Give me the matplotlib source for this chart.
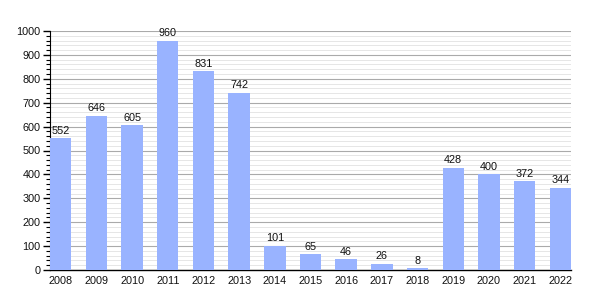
import numpy as np
import matplotlib
matplotlib.use('Agg')
import matplotlib.pyplot as plt
from matplotlib.ticker import MultipleLocator

years = ['2008', '2009', '2010', '2011', '2012', '2013', '2014', '2015',
         '2016', '2017', '2018', '2019', '2020', '2021', '2022']
values = [552, 646, 605, 960, 831, 742, 101, 65, 46, 26, 8, 428, 400, 372, 344]

plt.rcParams['font.family'] = ['Liberation Sans', 'DejaVu Sans']

fig = plt.figure(figsize=(6, 3), dpi=100)
ax = fig.add_axes([50 / 600, 30 / 300, 521 / 600, 239 / 300])

x = np.arange(len(years))
ax.bar(x, values, width=0.6, color='#99b3ff', zorder=3)
for xi, v in zip(x, values):
    ax.text(xi, v + 10, str(v), ha='center', va='bottom', fontsize=7.8, color='#111111')

ax.set_xlim(-0.3, len(years) - 0.7)
ax.set_ylim(0, 1000)
ax.set_xticks(x)
ax.set_xticklabels(years)
ax.yaxis.set_major_locator(MultipleLocator(100))
ax.yaxis.set_minor_locator(MultipleLocator(20))

ax.grid(axis='y', which='major', color='#aaaaaa', linewidth=0.8, zorder=0)
ax.grid(axis='y', which='minor', color='#e2e2e2', linewidth=0.6, zorder=0)

for s in ['top', 'right']:
    ax.spines[s].set_visible(False)
ax.spines['left'].set_color('black')
ax.spines['bottom'].set_color('black')
ax.spines['bottom'].set_linewidth(1.0)
ax.tick_params(axis='x', length=0, labelsize=7.8, pad=4, labelcolor='#111111')
ax.tick_params(axis='y', which='major', length=5, width=1, labelsize=7.8, pad=2, labelcolor='#111111')
ax.tick_params(axis='y', which='minor', length=3, width=0.8)

fig.savefig('out.png', dpi=100)
